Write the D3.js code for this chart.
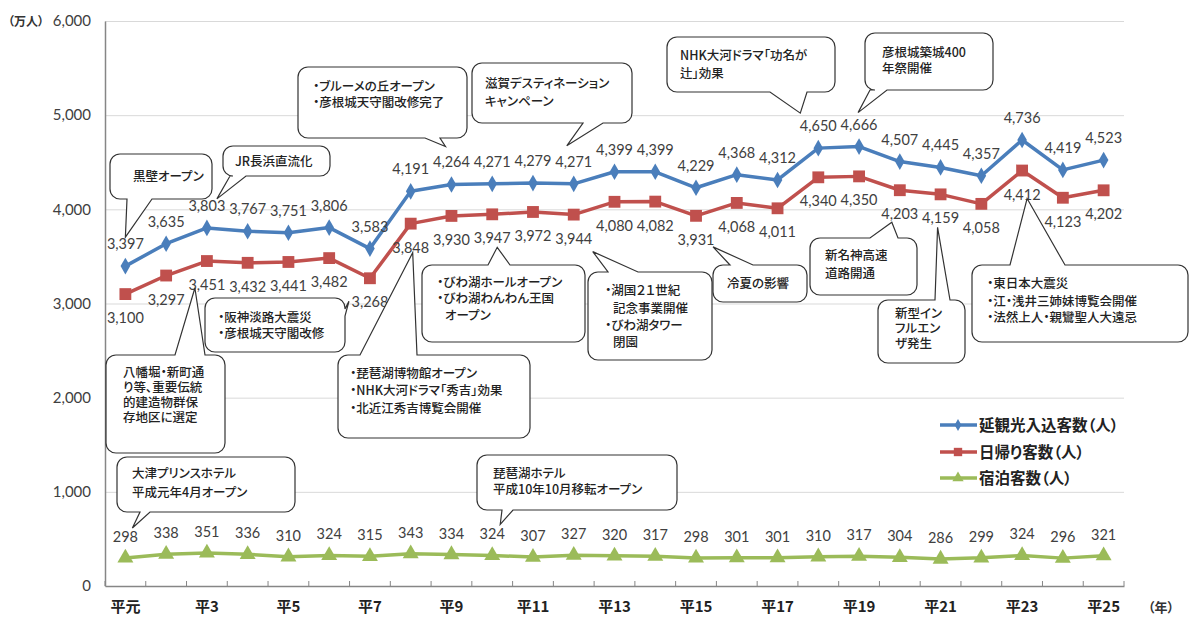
<!DOCTYPE html>
<html>
<head>
<meta charset="utf-8">
<script src="https://cdn.jsdelivr.net/npm/d3@7"></script>
<style>
  body { margin: 0; background: #fff; }
  svg { display: block; }
  .jp { font-family: "Noto Sans CJK JP", sans-serif; font-feature-settings: "palt"; }
  .num { font-family: Lato, "Liberation Sans", sans-serif; }
</style>
</head>
<body>
<svg id="chart" width="1190" height="617"></svg>
<script>
var width = 1190;
var height = 617;

// years (平成)
var years = [1, 2, 3, 4, 5, 6, 7, 8, 9, 10, 11, 12, 13, 14, 15, 16, 17, 18, 19, 20, 21, 22, 23, 24, 25];
var xLabels = ['平元', '', '平3', '', '平5', '', '平7', '', '平9', '', '平11', '', '平13', '', '平15', '', '平17', '', '平19', '', '平21', '', '平23', '', '平25'];
var yTicks = [0, 1000, 2000, 3000, 4000, 5000, 6000];

// 万人
var total = [3397, 3635, 3803, 3767, 3751, 3806, 3583, 4191, 4264, 4271, 4279, 4271, 4399, 4399, 4229, 4368, 4312, 4650, 4666, 4507, 4445, 4357, 4736, 4419, 4523];
var daily = [3100, 3297, 3451, 3432, 3441, 3482, 3268, 3848, 3930, 3947, 3972, 3944, 4080, 4082, 3931, 4068, 4011, 4340, 4350, 4203, 4159, 4058, 4412, 4123, 4202];
var stay = [298, 338, 351, 336, 310, 324, 315, 343, 334, 324, 307, 327, 320, 317, 298, 301, 301, 310, 317, 304, 286, 299, 324, 296, 321];

var seriesNames = ['延観光入込客数（人）', '日帰り客数（人）', '宿泊客数（人）'];

// callout texts, each tied to a point of a series
var notes = [
    {series: 'total', i: 0, lines: ['黒壁オープン']},
    {series: 'total', i: 2, lines: ['JR長浜直流化']},
    {series: 'total', i: 8, lines: ['・ブルーメの丘オープン', '・彦根城天守閣改修完了']},
    {series: 'total', i: 11, lines: ['滋賀デスティネーション', 'キャンペーン']},
    {series: 'total', i: 17, lines: ['NHK大河ドラマ「功名が', '辻」効果']},
    {series: 'total', i: 18, lines: ['彦根城築城400', '年祭開催']},
    {series: 'daily', i: 2, lines: ['八幡堀・新町通', 'り等、重要伝統', '的建造物群保', '存地区に選定']},
    {series: 'daily', i: 6, lines: ['・阪神淡路大震災', '・彦根城天守閣改修']},
    {series: 'daily', i: 7, lines: ['・琵琶湖博物館オープン', '・NHK大河ドラマ「秀吉」効果', '・北近江秀吉博覧会開催']},
    {series: 'daily', i: 9, lines: ['・びわ湖ホールオープン', '・びわ湖わんわん王国', 'オープン']},
    {series: 'daily', i: 11, lines: ['・湖国２１世紀', '記念事業開催', '・びわ湖タワー', '閉園']},
    {series: 'daily', i: 14, lines: ['冷夏の影響']},
    {series: 'daily', i: 19, lines: ['新名神高速', '道路開通']},
    {series: 'daily', i: 20, lines: ['新型イン', 'フルエン', 'ザ発生']},
    {series: 'daily', i: 22, lines: ['・東日本大震災', '・江・浅井三姉妹博覧会開催', '・法然上人・親鸞聖人大遠忌']},
    {series: 'stay', i: 0, lines: ['大津プリンスホテル', '平成元年4月オープン']},
    {series: 'stay', i: 9, lines: ['琵琶湖ホテル', '平成10年10月移転オープン']}
];

// callout geometry (pixels); tip is an offset from the data point
var noteLayout = [
    {box: [110, 154, 102, 45], side: 'bottom', base: [127, 152], tip: [0, -29], tx: 133, ty: [181]},
    {box: [223, 146, 107, 30], side: 'bottom', base: [230, 246], tip: [10, -29], tx: 235, ty: [166]},
    {box: [298, 67, 169, 71], side: 'bottom', base: [425, 440], tip: [-6, -38], tx: 313, ty: [91, 107]},
    {box: [472, 63, 160, 60], side: 'bottom', base: [583, 603], tip: [-7, -38], tx: 485, ty: [88, 106]},
    {box: [667, 37, 168, 55], side: 'bottom', base: [770, 807], tip: [-18, -35], tx: 680, ty: [60, 78]},
    {box: [865, 33, 128, 57], side: 'bottom', base: [870, 887], tip: [-1, -34], tx: 882, ty: [57, 73]},
    {box: [106, 355, 119, 98], side: 'top', base: [175, 205], tip: [-12, 27], tx: 123, ty: [377, 392, 407, 422]},
    {box: [205, 298, 140, 54], side: 'right', base: [309, 316], tip: [-21, 23], tx: 218, ty: [322, 338]},
    {box: [338, 355, 192, 83], side: 'top', base: [360, 417], tip: [2, 29], tx: 350, ty: [378, 395, 413]},
    {box: [422, 265, 163, 77], side: 'top', base: [488, 510], tip: [5, 33], tx: 437, ty: [287, 303, 320], indent: [0, 0, 8]},
    {box: [588, 272, 124, 88], side: 'top', base: [608, 638], tip: [19, 37], tx: 605, ty: [295, 313, 330, 347], indent: [0, 8, 0, 8]},
    {box: [713, 265, 94, 37], side: 'top', base: [730, 753], tip: [17, 31], tx: 727, ty: [288]},
    {box: [810, 238, 107, 57], side: 'top', base: [870, 898], tip: [-8, 32], tx: 825, ty: [260, 278]},
    {box: [878, 300, 87, 63], side: 'top', base: [935, 950], tip: [-3, 33], tx: 895, ty: [318, 333, 348]},
    {box: [972, 265, 216, 77], side: 'top', base: [1010, 1065], tip: [5, 28], tx: 987, ty: [288, 306, 322]},
    {box: [117, 457, 178, 55], side: 'bottom', base: [140, 150], tip: [7, -30], tx: 132, ty: [478, 497]},
    {box: [477, 455, 200, 55], side: 'bottom', base: [502, 513], tip: [8, -31], tx: 493, ty: [478, 494]}
];

var svg = d3.select('#chart');

var x = d3.scaleBand().domain(years).range([105, 1124]);
var y = d3.scaleLinear().domain([0, 6000]).range([586, 21]);

function cx(i) {
    return x(years[i]) + x.bandwidth() / 2;
}

// grid
svg.append('g')
    .selectAll('line')
    .data(yTicks.filter(function(d) { return d > 0; }))
    .join('line')
    .attr('x1', 105)
    .attr('x2', 1124)
    .attr('y1', function(d) { return y(d) + 0.5; })
    .attr('y2', function(d) { return y(d) + 0.5; })
    .attr('stroke', '#d9d9d9')
    .attr('stroke-width', 1);

// y axis
var yAxis = svg.append('g')
    .attr('transform', 'translate(105,0)')
    .call(d3.axisLeft(y).tickValues(yTicks).tickSize(0).tickPadding(14).tickFormat(d3.format(',')));
yAxis.select('.domain').attr('stroke', '#868686').attr('stroke-width', 1.5);
yAxis.selectAll('text').attr('class', 'num').attr('font-size', 15).attr('fill', '#404040');

// x axis
var xAxis = svg.append('g')
    .attr('transform', 'translate(0,586)')
    .call(d3.axisBottom(x).tickSize(0).tickSizeOuter(0).tickPadding(15).tickFormat(function(d, i) { return xLabels[i]; }));
xAxis.select('.domain').attr('stroke', '#868686').attr('stroke-width', 1.5);
xAxis.selectAll('text').attr('class', 'jp').attr('font-size', 15).attr('font-weight', 'bold').attr('fill', '#222');

var bounds = years.map(function(d) { return x(d); }).concat([x.range()[1]]);
svg.append('g')
    .selectAll('line')
    .data(bounds)
    .join('line')
    .attr('x1', function(d) { return d; })
    .attr('x2', function(d) { return d; })
    .attr('y1', 586)
    .attr('y2', 581)
    .attr('stroke', '#868686')
    .attr('stroke-width', 1);

svg.append('text').attr('class', 'jp')
    .attr('x', 8).attr('y', 26)
    .attr('font-size', 12).attr('font-weight', 'bold').attr('fill', '#333')
    .text('（万人）');
svg.append('text').attr('class', 'jp')
    .attr('x', 1148).attr('y', 612)
    .attr('font-size', 13).attr('font-weight', 'bold').attr('fill', '#333')
    .text('（年）');

var series = [
    {key: 'total', values: total, color: '#4a7ebb', symbol: d3.symbolDiamond, size: 80, labelDy: -17},
    {key: 'daily', values: daily, color: '#c0504d', symbol: d3.symbolSquare, size: 140, labelDy: 29},
    {key: 'stay', values: stay, color: '#9bbb59', symbol: d3.symbolTriangle, size: 110, labelDy: -16}
];
var byKey = {};
series.forEach(function(s) { byKey[s.key] = s; });

var line = d3.line()
    .x(function(d, i) { return cx(i); })
    .y(function(d) { return y(d); });

series.forEach(function(s) {
    svg.append('path')
        .datum(s.values)
        .attr('d', line)
        .attr('fill', 'none')
        .attr('stroke', s.color)
        .attr('stroke-width', 3.5)
        .attr('stroke-linejoin', 'round');
    svg.append('g')
        .selectAll('path')
        .data(s.values)
        .join('path')
        .attr('transform', function(d, i) { return 'translate(' + cx(i) + ',' + y(d) + ')'; })
        .attr('d', d3.symbol(s.symbol, s.size))
        .attr('fill', s.color);
    svg.append('g')
        .selectAll('text')
        .data(s.values)
        .join('text')
        .attr('class', 'num')
        .attr('x', function(d, i) { return cx(i); })
        .attr('y', function(d) { return y(d) + s.labelDy; })
        .attr('text-anchor', 'middle')
        .attr('font-size', 14.5)
        .attr('fill', '#404040')
        .text(d3.format(','));
});

// speech bubble outline with pointer on one side
function bubble(bx, by, w, h, r, side, b1, b2, tx, ty) {
    var p = 'M' + (bx + r) + ',' + by;
    if (side == 'top') p += 'L' + b1 + ',' + by + 'L' + tx + ',' + ty + 'L' + b2 + ',' + by;
    p += 'L' + (bx + w - r) + ',' + by + 'A' + r + ',' + r + ' 0 0 1 ' + (bx + w) + ',' + (by + r);
    if (side == 'right') p += 'L' + (bx + w) + ',' + b1 + 'L' + tx + ',' + ty + 'L' + (bx + w) + ',' + b2;
    p += 'L' + (bx + w) + ',' + (by + h - r) + 'A' + r + ',' + r + ' 0 0 1 ' + (bx + w - r) + ',' + (by + h);
    if (side == 'bottom') p += 'L' + b2 + ',' + (by + h) + 'L' + tx + ',' + ty + 'L' + b1 + ',' + (by + h);
    p += 'L' + (bx + r) + ',' + (by + h) + 'A' + r + ',' + r + ' 0 0 1 ' + bx + ',' + (by + h - r);
    if (side == 'left') p += 'L' + bx + ',' + b2 + 'L' + tx + ',' + ty + 'L' + bx + ',' + b1;
    p += 'L' + bx + ',' + (by + r) + 'A' + r + ',' + r + ' 0 0 1 ' + (bx + r) + ',' + by + 'Z';
    return p;
}

var noteG = svg.append('g');
notes.forEach(function(n, k) {
    var L = noteLayout[k];
    var s = byKey[n.series];
    var tx = cx(n.i) + L.tip[0];
    var ty = y(s.values[n.i]) + L.tip[1];
    noteG.append('path')
        .attr('d', bubble(L.box[0], L.box[1], L.box[2], L.box[3], 10, L.side, L.base[0], L.base[1], tx, ty))
        .attr('fill', '#fff')
        .attr('stroke', '#333')
        .attr('stroke-width', 1.2);
    noteG.append('g')
        .selectAll('text')
        .data(n.lines)
        .join('text')
        .attr('class', 'jp')
        .attr('x', function(d, j) { return L.tx + (L.indent ? L.indent[j] : 0); })
        .attr('y', function(d, j) { return L.ty[j]; })
        .attr('font-size', 12.5)
        .attr('font-weight', 500)
        .attr('fill', '#222')
        .text(function(d) { return d; });
});

// legend
var legend = svg.append('g');
series.forEach(function(s, k) {
    var ly = [425, 452, 478][k];
    legend.append('line')
        .attr('x1', 940).attr('x2', 977)
        .attr('y1', ly).attr('y2', ly)
        .attr('stroke', s.color).attr('stroke-width', 3.5);
    legend.append('path')
        .attr('transform', 'translate(958,' + ly + ')')
        .attr('d', d3.symbol(s.symbol, s.size * 0.5))
        .attr('fill', s.color);
    legend.append('text')
        .attr('class', 'jp')
        .attr('x', 979).attr('y', ly + 6)
        .attr('font-size', 15.5).attr('font-weight', 'bold').attr('fill', '#222')
        .text(seriesNames[k]);
});
</script>
</body>
</html>
